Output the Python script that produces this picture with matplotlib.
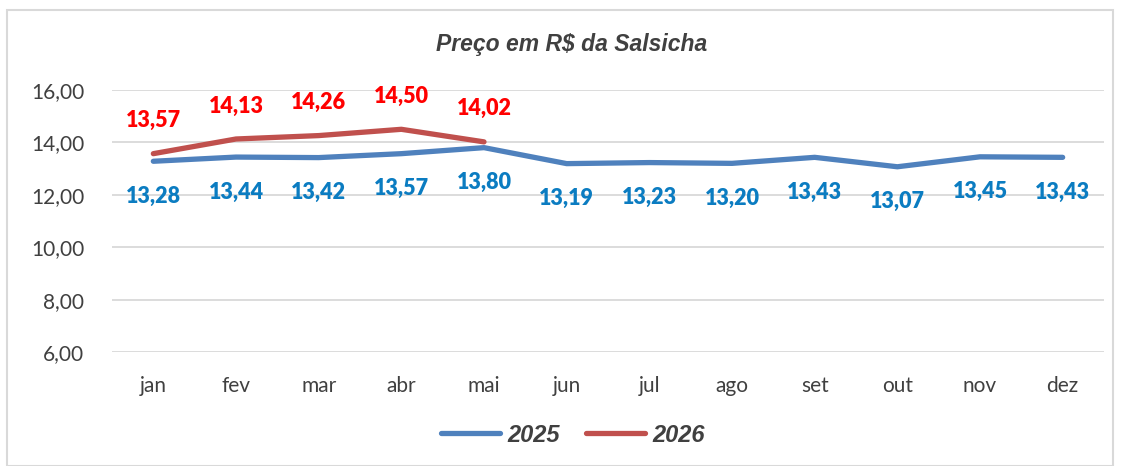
import matplotlib
matplotlib.use("Agg")
import matplotlib.pyplot as plt
from matplotlib.patches import Rectangle

months = ["jan", "fev", "mar", "abr", "mai", "jun", "jul", "ago", "set", "out", "nov", "dez"]
v2025 = [13.28, 13.44, 13.42, 13.57, 13.80, 13.19, 13.23, 13.20, 13.43, 13.07, 13.45, 13.43]
v2026 = [13.57, 14.13, 14.26, 14.50, 14.02]
yticks = [6, 8, 10, 12, 14, 16]

def br(v):
    return f"{v:.2f}".replace(".", ",")

fig = plt.figure(figsize=(11.22, 4.66), dpi=100)
fig.patches.append(Rectangle((7/1122, 0), (1113-7)/1122, (466-10)/466, transform=fig.transFigure,
                             fill=False, edgecolor="#D9D9D9", linewidth=1.5))
ax = fig.add_axes([112/1122, 1-352/466, (1104-112)/1122, (352-90)/466])

x = list(range(len(months)))
ax.plot(x, v2025, color="#4F81BD", lw=3.8, solid_capstyle="round", solid_joinstyle="round", label="2025", zorder=3)
ax.plot(x[:len(v2026)], v2026, color="#C0504D", lw=3.8, solid_capstyle="round", solid_joinstyle="round", label="2026", zorder=4)

for xi, v in zip(x, v2025):
    ax.annotate(br(v), (xi, v), xytext=(0, -35), textcoords="offset pixels", ha="center", va="center",
                color="#0B7CC1", fontsize=15.5, fontweight="heavy", family="Lato")
for xi, v in zip(x, v2026):
    ax.annotate(br(v), (xi, v), xytext=(0, 33), textcoords="offset pixels", ha="center", va="center",
                color="#FF0000", fontsize=15.5, fontweight="heavy", family="Lato")

ax.set_xlim(-0.5, len(months) - 0.5)
ax.set_ylim(6, 16)
ax.set_yticks(yticks)
ax.set_yticklabels([br(t) for t in yticks])
ax.set_xticks(x)
ax.set_xticklabels(months)
ax.grid(axis="y", color="#D9D9D9", lw=1.3, zorder=0)
ax.set_axisbelow(True)
for s in ax.spines.values():
    s.set_visible(False)
ax.tick_params(length=0, labelsize=15, colors="#404040")
for lbl in ax.get_xticklabels() + ax.get_yticklabels():
    lbl.set_family("Lato")
ax.tick_params(axis="x", pad=17)
ax.tick_params(axis="y", pad=20)

fig.text(572/1122, 1-45/466, "Preço em R$ da Salsicha", ha="center", va="center", fontsize=16.5,
         fontstyle="italic", fontweight="bold", color="#404040", family="Liberation Sans")

leg = fig.legend(loc="center", bbox_to_anchor=(573/1122, 1-435/466), ncol=2, frameon=False,
                 prop={"family": "Liberation Sans", "weight": "bold", "style": "italic", "size": 17},
                 handlelength=2.5, handletextpad=0.3, columnspacing=1.1)
for t in leg.get_texts():
    t.set_color("#404040")

fig.savefig("out.png", dpi=100)
